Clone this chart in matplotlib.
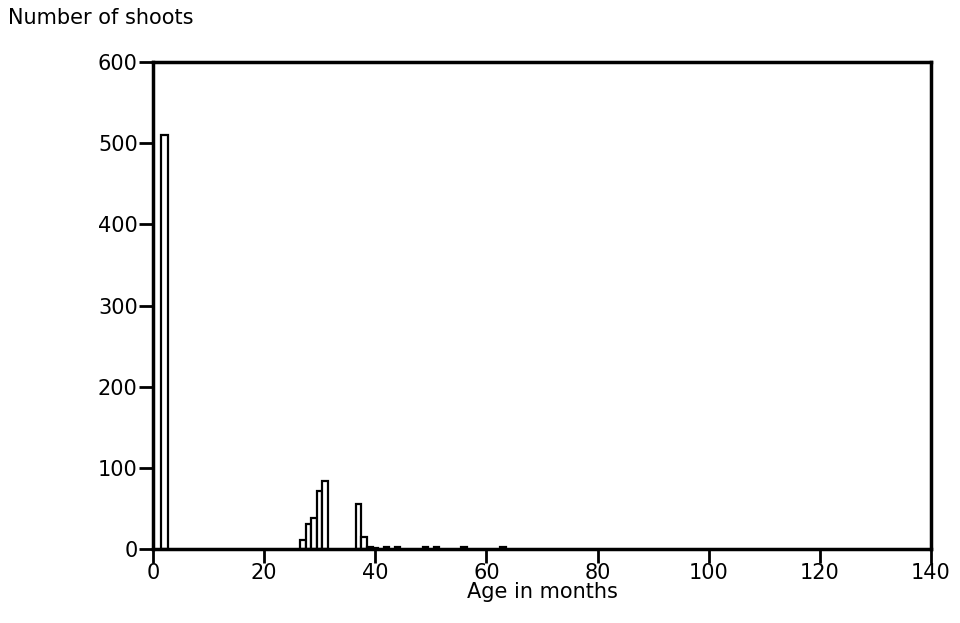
import matplotlib
matplotlib.use("Agg")
import matplotlib.pyplot as plt

ages = [2, 27, 28, 29, 30, 31, 37, 38, 39, 40, 42, 44, 49, 51, 56, 63]
counts = [510, 11, 31, 38, 71, 84, 56, 15, 3, 1, 3, 3, 3, 3, 3, 3]
xticks = [0, 20, 40, 60, 80, 100, 120, 140]
yticks = [0, 100, 200, 300, 400, 500, 600]

plt.rcParams['font.family'] = ['DejaVu Sans']
fig = plt.figure(figsize=(9.6, 6.23), dpi=100)
ax = fig.add_axes([153/960, 1-549/623, (931-153)/960, (549-62)/623])

widths = [1.3] + [1.0]*(len(ages)-1)
ax.bar(ages, counts, width=widths, color='white', edgecolor='black', linewidth=1.6, zorder=3)

ax.set_xlim(0, 140)
ax.set_ylim(0, 600)
ax.set_xticks(xticks)
ax.set_yticks(yticks)
ax.tick_params(axis='both', direction='out', length=10, width=2, labelsize=15)
ax.tick_params(axis='x', pad=0)
ax.tick_params(axis='y', pad=1)
for s in ax.spines.values():
    s.set_linewidth(2.5)
    s.set_zorder(4)

ax.set_xlabel('Age in months', fontsize=15, labelpad=-1)
fig.text(8/960, 1-18/623, 'Number of shoots', fontsize=15, ha='left', va='center')

fig.savefig('out.png', dpi=100)
